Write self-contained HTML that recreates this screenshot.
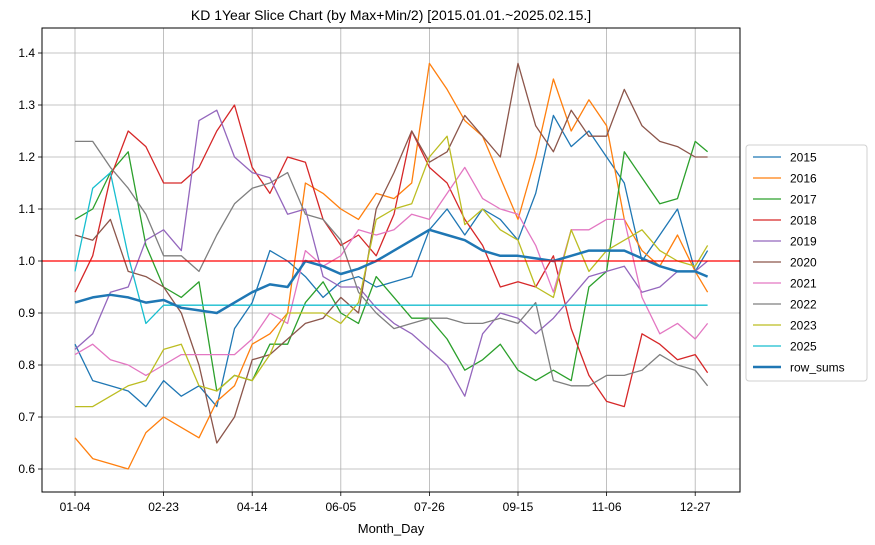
<!DOCTYPE html>
<html><head><meta charset="utf-8"><style>
html,body{margin:0;padding:0;background:#fff;}
svg{display:block;font-family:"Liberation Sans","DejaVu Sans",sans-serif;}
</style></head><body>
<svg id="chart" width="875" height="545" viewBox="0 0 875 545" xmlns="http://www.w3.org/2000/svg">
<text x="391" y="20" font-size="14" text-anchor="middle" fill="#000">KD 1Year Slice Chart (by Max+Min/2) [2015.01.01.~2025.02.15.]</text>
<g id="grid"></g>
<g id="series"></g>
<rect x="42" y="28" width="698" height="464" fill="none" stroke="#000" stroke-width="1"/>
<g id="axes"></g>
<text x="391" y="533" font-size="13" text-anchor="middle">Month_Day</text>
<g id="legend"></g>
</svg>
<script>
const days = [0,10,20,30,40,50,60,70,80,90,100,110,120,130,140,150,160,170,180,190,200,210,220,230,240,250,260,270,280,290,300,310,320,330,340,350,357];
const xTickLabels = ["01-04","02-23","04-14","06-05","07-26","09-15","11-06","12-27"];
const xTickDays = [0,50,100,150,200,250,300,350];
const yTicks = [0.6,0.7,0.8,0.9,1.0,1.1,1.2,1.3,1.4];
const seriesNames = ["2015","2016","2017","2018","2019","2020","2021","2022","2023","2025","row_sums"];
const s2015 = [0.84,0.77,0.76,0.75,0.72,0.77,0.74,0.76,0.72,0.87,0.92,1.02,1.00,0.97,0.93,0.96,0.97,0.95,0.96,0.97,1.06,1.10,1.05,1.10,1.08,1.04,1.13,1.28,1.22,1.25,1.20,1.15,1.00,1.05,1.10,0.98,1.02];
const s2016 = [0.66,0.62,0.61,0.60,0.67,0.70,0.68,0.66,0.73,0.76,0.84,0.86,0.90,1.15,1.13,1.10,1.08,1.13,1.12,1.15,1.38,1.33,1.27,1.24,1.16,1.08,1.20,1.35,1.25,1.31,1.26,1.08,1.02,0.99,1.05,0.98,0.94];
const s2017 = [1.08,1.10,1.17,1.21,1.03,0.95,0.93,0.96,0.75,0.78,0.77,0.84,0.84,0.92,0.96,0.90,0.88,0.97,0.93,0.89,0.89,0.85,0.79,0.81,0.84,0.79,0.77,0.79,0.77,0.95,0.98,1.21,1.16,1.11,1.12,1.23,1.21];
const s2018 = [0.94,1.01,1.16,1.25,1.22,1.15,1.15,1.18,1.25,1.30,1.18,1.13,1.20,1.19,1.08,1.03,1.05,1.01,1.09,1.25,1.18,1.15,1.08,1.03,0.95,0.96,0.95,1.01,0.87,0.78,0.73,0.72,0.86,0.84,0.81,0.82,0.785];
const s2019 = [0.83,0.86,0.94,0.95,1.04,1.06,1.02,1.27,1.29,1.20,1.17,1.16,1.09,1.10,0.97,0.95,0.95,0.91,0.88,0.86,0.83,0.80,0.74,0.86,0.90,0.89,0.86,0.89,0.93,0.97,0.98,0.99,0.94,0.95,0.98,0.98,1.00];
const s2020 = [1.05,1.04,1.08,0.98,0.97,0.95,0.90,0.80,0.65,0.70,0.81,0.82,0.85,0.88,0.89,0.93,0.90,1.10,1.17,1.25,1.19,1.21,1.28,1.24,1.20,1.38,1.26,1.21,1.29,1.24,1.24,1.33,1.26,1.23,1.22,1.20,1.20];
const s2021 = [0.82,0.84,0.81,0.80,0.78,0.80,0.82,0.82,0.82,0.82,0.85,0.90,0.88,1.02,0.99,1.01,1.06,1.05,1.06,1.09,1.08,1.13,1.18,1.12,1.10,1.09,1.03,0.94,1.06,1.06,1.08,1.08,0.93,0.86,0.88,0.85,0.88];
const s2022 = [1.23,1.23,1.18,1.14,1.09,1.01,1.01,0.98,1.05,1.11,1.14,1.15,1.17,1.09,1.08,1.04,0.94,0.90,0.87,0.88,0.89,0.89,0.88,0.88,0.89,0.88,0.92,0.77,0.76,0.76,0.78,0.78,0.79,0.82,0.80,0.79,0.76];
const s2023 = [0.72,0.72,0.74,0.76,0.77,0.83,0.84,0.76,0.75,0.78,0.77,0.82,0.90,0.90,0.90,0.88,0.92,1.08,1.10,1.11,1.20,1.24,1.07,1.10,1.06,1.04,0.95,0.93,1.06,0.98,1.02,1.04,1.06,1.02,1.00,0.99,1.03];
const s2025 = [0.98,1.14,1.17,1.01,0.88,0.915,0.915,0.915,0.915,0.915,0.915,0.915,0.915,0.915,0.915,0.915,0.915,0.915,0.915,0.915,0.915,0.915,0.915,0.915,0.915,0.915,0.915,0.915,0.915,0.915,0.915,0.915,0.915,0.915,0.915,0.915,0.915];
const sRowSums = [0.92,0.93,0.935,0.93,0.92,0.925,0.91,0.905,0.90,0.92,0.94,0.955,0.95,1.00,0.99,0.975,0.985,1.0,1.02,1.04,1.06,1.05,1.04,1.02,1.01,1.01,1.005,1.0,1.01,1.02,1.02,1.02,1.005,0.99,0.98,0.98,0.97];
const seriesData = [s2015,s2016,s2017,s2018,s2019,s2020,s2021,s2022,s2023,s2025,sRowSums];
const colors = ["#1f77b4","#ff7f0e","#2ca02c","#d62728","#9467bd","#8c564b","#e377c2","#7f7f7f","#bcbd22","#17becf","#1f77b4"];

const NS = "http://www.w3.org/2000/svg";
const xScale = d => 75 + d * 1.772;
const yScale = v => 261 - (v - 1.0) * 520;
function mk(tag, attrs, parent){ const e=document.createElementNS(NS,tag); for(const k in attrs) e.setAttribute(k,attrs[k]); parent.appendChild(e); return e; }

const grid = document.getElementById("grid");
const axes = document.getElementById("axes");
xTickDays.forEach((d,i)=>{
  const x = xScale(d);
  const gl = mk("line",{x1:x,x2:x,y1:28,y2:492,stroke:"#b0b0b0","stroke-width":0.8},grid);
  
  
  const tk = mk("line",{x1:x,x2:x,y1:492,y2:496,stroke:"#000","stroke-width":0.8},axes);
  
  
  const t = mk("text",{x:x,y:511,"font-size":12,"text-anchor":"middle"},axes);
  t.textContent = xTickLabels[i];
  
  
});
yTicks.forEach(v=>{
  const y = yScale(v);
  const gl = mk("line",{x1:42,x2:740,y1:y,y2:y,stroke:"#b0b0b0","stroke-width":0.8},grid);
  
  
  const tk = mk("line",{x1:38,x2:42,y1:y,y2:y,stroke:"#000","stroke-width":0.8},axes);
  
  
  const t = mk("text",{x:35,y:y+4,"font-size":12,"text-anchor":"end"},axes);
  t.textContent = v.toFixed(1);
  
  
});

const sg = document.getElementById("series");
seriesData.forEach((arr,si)=>{
  const pts = arr.map((v,i)=>xScale(days[i]).toFixed(1)+","+yScale(v).toFixed(1)).join(" ");
  const pl = mk("polyline",{points:pts,fill:"none",stroke:colors[si],"stroke-width":si===10?2.5:1.3,"stroke-linejoin":"round"},sg);
  
  
});
const ref = mk("line",{x1:42,x2:740,y1:yScale(1.0),y2:yScale(1.0),stroke:"#ff0000","stroke-width":1.2},sg);



const lg = document.getElementById("legend");
const box = mk("rect",{x:746,y:145,width:121,height:236,rx:3,fill:"#fff",stroke:"#d0d0d0","stroke-width":1},lg);


seriesNames.forEach((n,i)=>{
  const y = 157 + i*21;
  const l = mk("line",{x1:753,x2:781,y1:y,y2:y,stroke:colors[i],"stroke-width":i===10?2.5:1.3},lg);
  
  
  const t = mk("text",{x:790,y:y+4.5,"font-size":12},lg);
  t.textContent = n;
  
  
});
</script>
</body></html>
